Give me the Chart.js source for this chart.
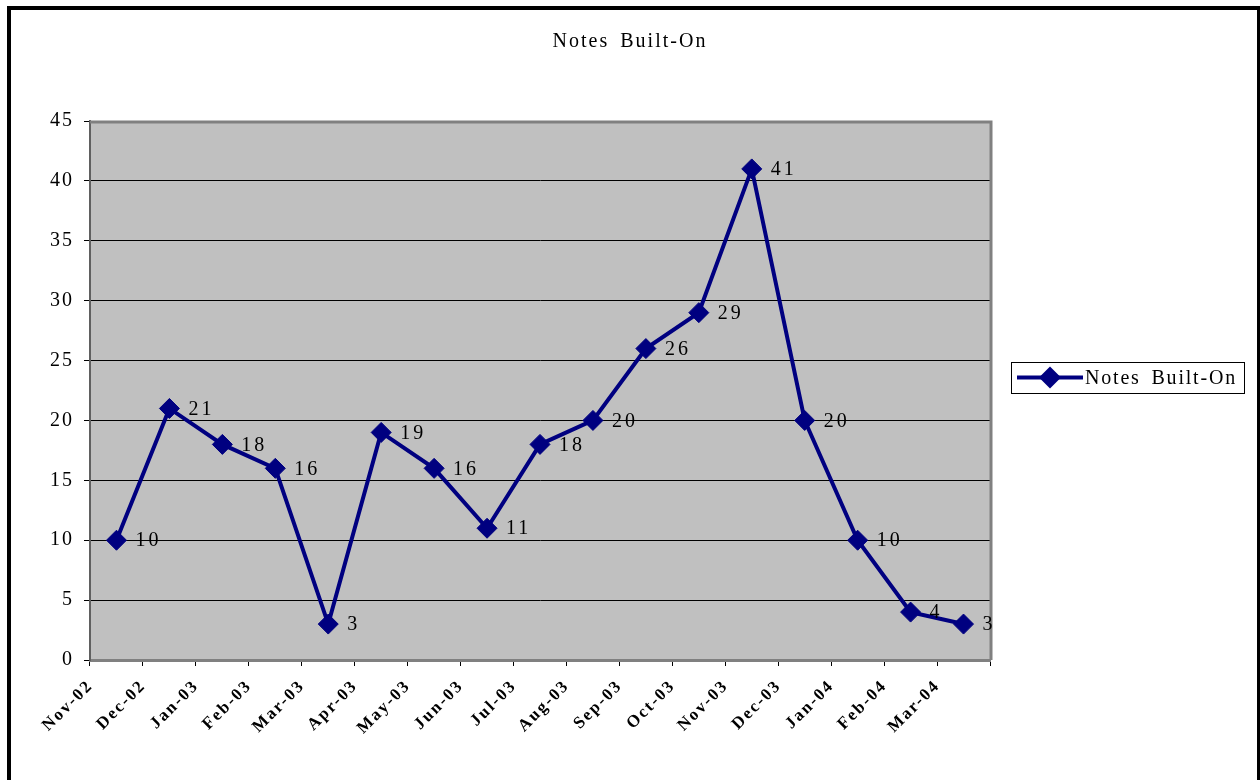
<!DOCTYPE html>
<html>
<head>
<meta charset="utf-8">
<title>Notes Built-On</title>
<script src="https://cdn.jsdelivr.net/npm/chart.js@4/dist/chart.umd.min.js"></script>
<style>
  html, body { margin: 0; padding: 0; background: #fff; }
  canvas { display: block; }
</style>
</head>
<body>
<canvas id="chart" width="1260" height="780"></canvas>
<script>
// data
const months = ['Nov-02', 'Dec-02', 'Jan-03', 'Feb-03', 'Mar-03', 'Apr-03', 'May-03', 'Jun-03', 'Jul-03',
                'Aug-03', 'Sep-03', 'Oct-03', 'Nov-03', 'Dec-03', 'Jan-04', 'Feb-04', 'Mar-04'];
const notesBuiltOn = [10, 21, 18, 16, 3, 19, 16, 11, 18, 20, 26, 29, 41, 20, 10, 4, 3];
const yTicks = [0, 5, 10, 15, 20, 25, 30, 35, 40, 45];
const seriesName = 'Notes Built-On';

const navy = '#000080';
const serif = '"Liberation Serif", "Times New Roman", serif';

// grey plot area + frame round the whole picture
const frame = {
  id: 'frame',
  beforeDraw(chart) {
    const { ctx, chartArea: a } = chart;
    ctx.save();
    ctx.fillStyle = '#c0c0c0';
    ctx.fillRect(a.left, a.top, a.right - a.left, a.bottom - a.top);
    ctx.restore();
    // wide Excel-like text spacing for everything chart.js writes
    ctx.letterSpacing = '2px';
    ctx.wordSpacing = '4px';
  },
  afterDatasetsDraw(chart) {
    const { ctx, chartArea: a } = chart;
    ctx.save();
    ctx.strokeStyle = '#808080';
    ctx.lineWidth = 3;
    ctx.beginPath();
    ctx.moveTo(a.left, a.top + 1);
    ctx.lineTo(a.right + 1, a.top + 1);
    ctx.lineTo(a.right + 1, a.bottom);
    ctx.stroke();
    ctx.restore();
  },
  afterDraw(chart) {
    const ctx = chart.ctx;
    ctx.save();
    ctx.strokeStyle = '#000';
    ctx.lineWidth = 4;
    ctx.strokeRect(9, 8, 1250, 800);
    ctx.restore();
  }
};

// value labels right of each marker
const valueLabels = {
  id: 'valueLabels',
  afterDatasetsDraw(chart) {
    const ctx = chart.ctx;
    const meta = chart.getDatasetMeta(0);
    ctx.save();
    ctx.font = '20px ' + serif;
    ctx.letterSpacing = '3px';
    ctx.fillStyle = '#000';
    ctx.textAlign = 'left';
    ctx.textBaseline = 'middle';
    meta.data.forEach((pt, i) => {
      ctx.fillText(String(notesBuiltOn[i]), pt.x + 19, pt.y + 1);
    });
    ctx.restore();
  }
};

// boxed legend on the right
const sideLegend = {
  id: 'sideLegend',
  afterDraw(chart) {
    const ctx = chart.ctx;
    const a = chart.chartArea;
    const x = a.right + 21, y = 362, w = 233, h = 31;
    const cy = y + h / 2;
    const ds = chart.data.datasets[0];
    ctx.save();
    ctx.fillStyle = '#fff';
    ctx.fillRect(x, y, w, h);
    ctx.strokeStyle = '#000';
    ctx.lineWidth = 1;
    ctx.strokeRect(x + 0.5, y + 0.5, w, h);
    ctx.strokeStyle = navy;
    ctx.lineWidth = 4;
    ctx.beginPath();
    ctx.moveTo(x + 6, cy);
    ctx.lineTo(x + 72, cy);
    ctx.stroke();
    ctx.fillStyle = navy;
    ctx.beginPath();
    ctx.moveTo(x + 39, cy - 11);
    ctx.lineTo(x + 50, cy);
    ctx.lineTo(x + 39, cy + 11);
    ctx.lineTo(x + 28, cy);
    ctx.closePath();
    ctx.fill();
    ctx.font = '20px ' + serif;
    ctx.letterSpacing = '1.8px';
    ctx.wordSpacing = '4px';
    ctx.fillStyle = '#000';
    ctx.textBaseline = 'middle';
    ctx.fillText(ds.label, x + 74, cy + 1);
    ctx.restore();
  }
};

new Chart(document.getElementById('chart'), {
  type: 'line',
  data: {
    labels: months,
    datasets: [{
      label: seriesName,
      data: notesBuiltOn,
      borderColor: navy,
      backgroundColor: navy,
      borderWidth: 4,
      tension: 0,
      pointStyle: 'rectRot',
      pointRadius: 10,
      pointHoverRadius: 10,
      pointBackgroundColor: navy,
      pointBorderColor: navy,
      pointBorderWidth: 1
    }]
  },
  options: {
    responsive: false,
    animation: false,
    events: [],
    layout: { padding: 0 },
    scales: {
      x: {
        offset: true,
        grid: {
          offset: true,
          drawOnChartArea: false,
          drawTicks: true,
          tickLength: 6,
          tickColor: '#000'
        },
        border: { color: '#808080', width: 3 },
        ticks: {
          autoSkip: false,
          minRotation: 45,
          maxRotation: 45,
          padding: 10,
          labelOffset: -26,
          color: '#000',
          font: { family: serif, size: 17, weight: 'bold' }
        },
        afterFit(axis) { axis.height = 120; }
      },
      y: {
        min: 0,
        max: 45,
        afterBuildTicks(axis) { axis.ticks = yTicks.map(v => ({ value: v })); },
        grid: {
          color: '#000',
          lineWidth: 1,
          drawTicks: true,
          tickLength: 6,
          tickColor: '#000'
        },
        border: { color: '#606060', width: 2 },
        ticks: {
          padding: 10,
          color: '#000',
          font: { family: serif, size: 20 }
        },
        afterFit(axis) { axis.width = 90; }
      },
      // empty right-hand axis keeps room for the legend while the title stays centred on the page
      side: {
        position: 'right',
        display: true,
        grid: { display: false, drawTicks: false },
        border: { display: false },
        ticks: { display: false },
        afterFit(axis) { axis.width = 270; }
      }
    },
    plugins: {
      legend: { display: false },
      tooltip: { enabled: false },
      title: {
        display: true,
        text: seriesName,
        color: '#000',
        font: { family: serif, size: 20, weight: 'normal' },
        padding: { top: 30, bottom: 67 }
      }
    }
  },
  plugins: [frame, valueLabels, sideLegend]
});
</script>
</body>
</html>
